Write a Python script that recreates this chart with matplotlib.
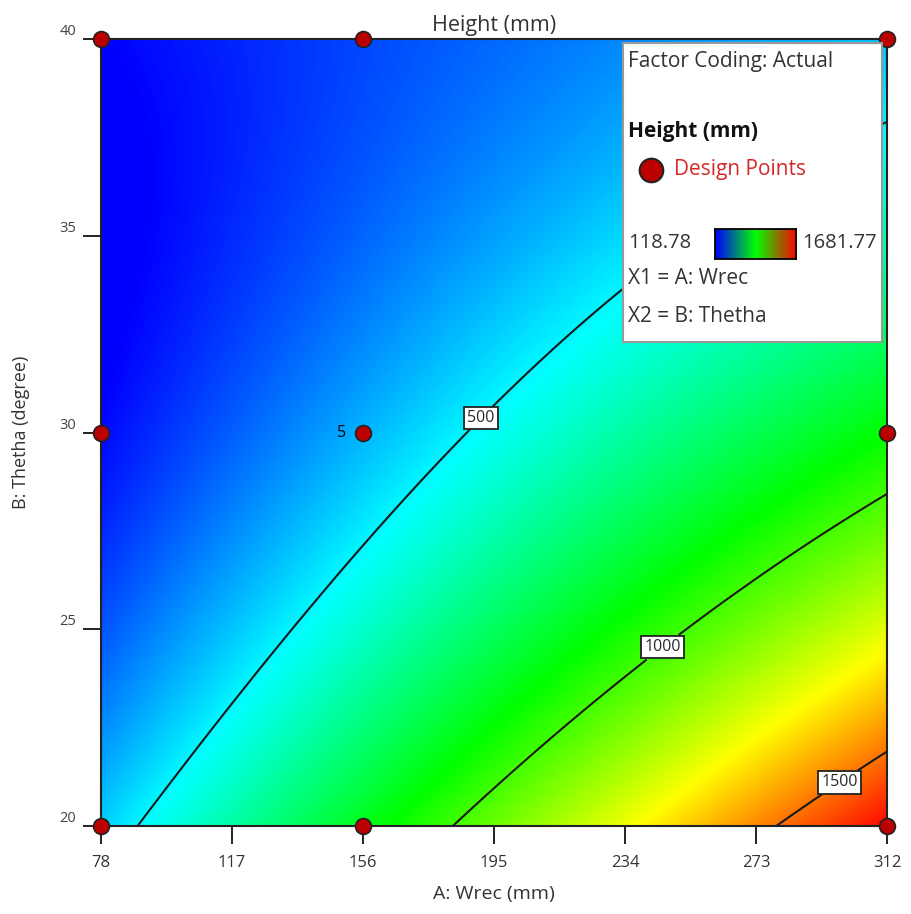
import numpy as np
import matplotlib
matplotlib.use("Agg")
import matplotlib.pyplot as plt
from matplotlib.colors import LinearSegmentedColormap

plt.rcParams['font.family'] = ['Open Sans', 'DejaVu Sans']

# design points (A: Wrec, B: Thetha)
design_a = [78, 156, 312, 78, 156, 312, 78, 156, 312]
design_b = [40, 40, 40, 30, 30, 30, 20, 20, 20]
center_reps = 5

# response range shown in the legend
h_min, h_max = 118.78, 1681.77

# points (A, B, Height)
read_a = [78, 312, 88.4, 156, 189.6, 233.4, 312, 184.9, 244.7, 312, 284.3, 298, 312]
read_b = [40, 20, 20, 27.3, 30.5, 33.7, 38.0, 20, 24.6, 28.2, 20, 21.1, 21.6]
read_h = [118.78, 1681.77, 500, 500, 500, 500, 500, 1000, 1000, 1000, 1500, 1500, 1500]
read_w = [4, 4, 1, 1, 1, 1, 1, 1, 1, 1, 1, 1, 1]

levels = [500, 1000, 1500]
label_pos = [(189.6, 30.5), (244.7, 24.6), (298, 21.1)]
x_ticks = [78, 117, 156, 195, 234, 273, 312]
y_ticks = [20, 25, 30, 35, 40]

# quadratic response surface in coded units, fitted to the read points
def terms(a, b):
    x1 = (np.asarray(a) - 195) / 117.0
    x2 = (np.asarray(b) - 30) / 10.0
    return np.stack([np.ones_like(x1), x1, x2, x1 * x2, x1 ** 2, x2 ** 2], axis=-1)

w = np.sqrt(np.array(read_w, float))
coef, *_ = np.linalg.lstsq(terms(read_a, read_b) * w[:, None], np.array(read_h) * w, rcond=None)

ga = np.linspace(78, 312, 400)
gb = np.linspace(20, 40, 400)
GA, GB = np.meshgrid(ga, gb)
H = terms(GA, GB) @ coef

cmap = LinearSegmentedColormap.from_list(
    'de', ['#0000ff', '#00ffff', '#00ff00', '#ffff00', '#ff0000'])

fig = plt.figure(figsize=(9.12, 9.14), dpi=100)
ax = fig.add_axes([0.1107, 0.0963, 0.8619, 0.861])
ax.imshow(H, origin='lower', extent=[78, 312, 20, 40], aspect='auto',
          cmap=cmap, vmin=h_min, vmax=h_max, interpolation='bilinear')
cs = ax.contour(GA, GB, H, levels=levels, colors='#1a1a1a', linewidths=1.5)
labs = ax.clabel(cs, fmt='%d', fontsize=11.5, inline=True, inline_spacing=2,
                 manual=label_pos)
for t in labs:
    t.set_rotation(0)
    t.set_color('#2a2a2a')
    t.set_bbox(dict(facecolor='white', edgecolor='#222222', linewidth=1.3,
                    boxstyle='square,pad=0.2'))

ax.scatter(design_a, design_b, s=130, c='#bb0000', edgecolors='#222222',
           linewidths=1.2, zorder=5, clip_on=False)
ax.text(156 - 5, 30, str(center_reps), ha='right', va='center', fontsize=11.5)

ax.set_xlim(78, 312)
ax.set_ylim(20, 40)
ax.set_xticks(x_ticks)
ax.set_yticks(y_ticks)
ax.tick_params(direction='out', length=13, width=1.4, color='#222222')
ax.tick_params(axis='x', labelsize=12, pad=8, labelcolor='#333333')
ax.tick_params(axis='y', labelsize=10.5, pad=5, labelcolor='#444444')
for lab in ax.get_yticklabels():
    lab.set_verticalalignment('bottom')
for s in ax.spines.values():
    s.set_linewidth(1.5)
    s.set_color('#222222')
ax.set_xlabel('A: Wrec (mm)', fontsize=14, color='#333333')
ax.xaxis.set_label_coords(0.5, -0.075)
ax.set_ylabel('B: Thetha (degree)', fontsize=13, color='#333333')
ax.yaxis.set_label_coords(-0.09, 0.5)
ax.set_title('Height (mm)', fontsize=15.5, pad=6, color='#333333')

# legend panel
px = lambda x: x / 912
py = lambda y: 1 - y / 914
fig.patches.append(plt.Rectangle((px(623), py(342)), px(882) - px(623), py(43) - py(342),
                                 transform=fig.transFigure, facecolor='white',
                                 edgecolor='#999999', linewidth=1.5, zorder=10))
fs = 15
fig.text(px(628), py(62), 'Factor Coding: Actual', fontsize=fs, va='center',
         color='#333333', zorder=11)
fig.text(px(628), py(132), 'Height (mm)', fontsize=fs, fontweight='bold', va='center',
         color='#111111', zorder=11)
fig.lines.append(plt.Line2D([px(651)], [py(170)], marker='o', markersize=17,
                            markerfacecolor='#bb0000', markeredgecolor='#222222',
                            markeredgewidth=1.5, transform=fig.transFigure, zorder=11))
fig.text(px(674), py(170), 'Design Points', fontsize=fs, color='#d62728', va='center', zorder=11)
fig.text(px(628), py(243), f'{h_min:.2f}', fontsize=14.5, va='center', color='#333333', zorder=11)
fig.text(px(802), py(243), f'{h_max:.2f}', fontsize=14.5, va='center', color='#333333', zorder=11)
cax = fig.add_axes([px(715), py(259), px(796) - px(715), py(229) - py(259)], zorder=12)
bar_map = LinearSegmentedColormap.from_list('bar', ['#0000ff', '#00ff00', '#ff0000'])
cax.imshow(np.linspace(0, 1, 100)[None, :], aspect='auto', cmap=bar_map)
cax.set_xticks([])
cax.set_yticks([])
for s in cax.spines.values():
    s.set_linewidth(1.3)
fig.text(px(628), py(279), 'X1 = A: Wrec', fontsize=fs, va='center', color='#333333', zorder=11)
fig.text(px(628), py(316), 'X2 = B: Thetha', fontsize=fs, va='center', color='#333333', zorder=11)

fig.savefig('out.png', dpi=100)
